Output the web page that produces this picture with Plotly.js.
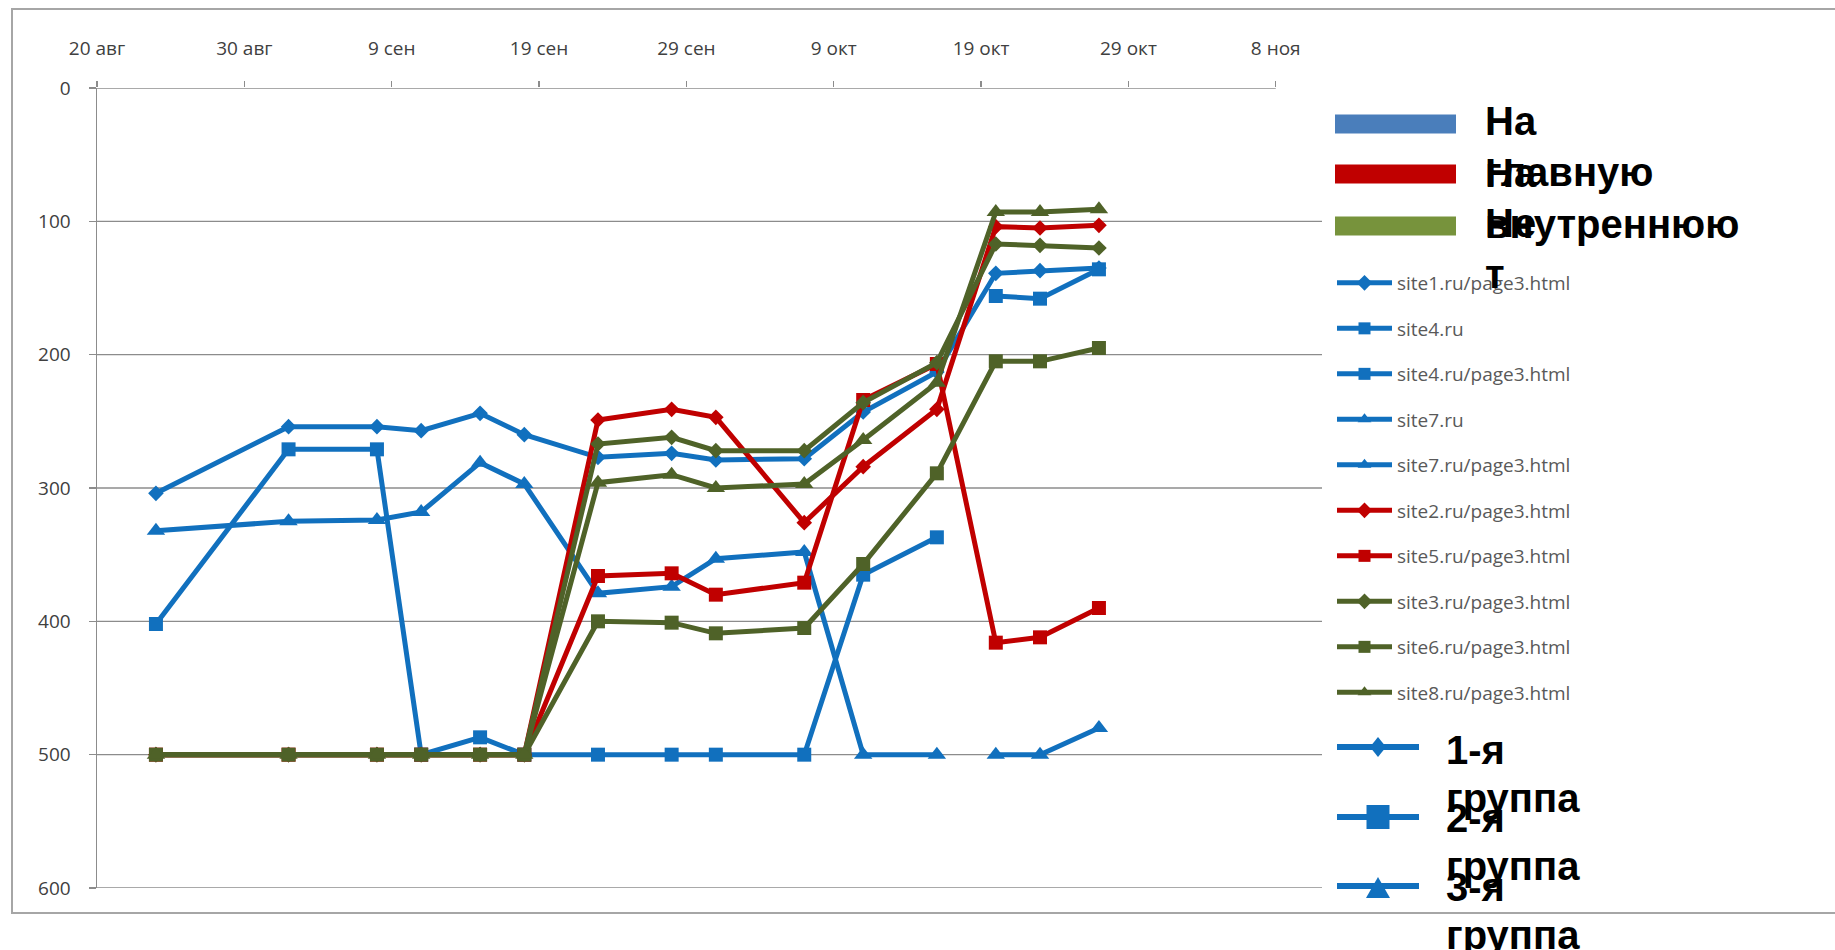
<!DOCTYPE html>
<html>
<head>
<meta charset="utf-8">
<script src="https://cdn.plot.ly/plotly-3.0.1.min.js"></script>
<style>html,body{margin:0;padding:0;background:#fff;}#chart{width:1835px;height:950px;}</style>
</head>
<body>
<div id="chart"></div>
<script>
// ---- data ----
const dates = ['2010-08-24','2010-09-02','2010-09-08','2010-09-11','2010-09-15','2010-09-18','2010-09-23','2010-09-28','2010-10-01','2010-10-07','2010-10-11','2010-10-16','2010-10-20','2010-10-23','2010-10-27'];
const site1_page3 = [304, 254, 254, 257, 244, 260, 277, 274, 279, 278, 243, 213, 139, 137, 135];
const site4      = [402, 271, 271, 500, 487, 500, 500, 500, 500, 500, 365, 337, null, null, null];
const site4_page3 = [null, null, null, null, null, null, null, null, null, null, null, null, 156, 158, 136];
const site7      = [332, 325, 324, 318, 281, 297, 379, 374, 353, 348, 500, 500, null, null, null];
const site7_page3 = [null, null, null, null, null, null, null, null, null, null, null, null, 500, 500, 480];
const site2_page3 = [500, 500, 500, 500, 500, 500, 249, 241, 247, 326, 284, 241, 104, 105, 103];
const site5_page3 = [500, 500, 500, 500, 500, 500, 366, 364, 380, 371, 234, 207, 416, 412, 390];
const site3_page3 = [500, 500, 500, 500, 500, 500, 267, 262, 272, 272, 236, 206, 117, 118, 120];
const site6_page3 = [500, 500, 500, 500, 500, 500, 400, 401, 409, 405, 357, 289, 205, 205, 195];
const site8_page3 = [500, 500, 500, 500, 500, 500, 296, 290, 300, 297, 264, 221, 93, 93, 91];

const seriesNames = ['site1.ru/page3.html','site4.ru','site4.ru/page3.html','site7.ru','site7.ru/page3.html','site2.ru/page3.html','site5.ru/page3.html','site3.ru/page3.html','site6.ru/page3.html','site8.ru/page3.html'];
const seriesValues = [site1_page3, site4, site4_page3, site7, site7_page3, site2_page3, site5_page3, site3_page3, site6_page3, site8_page3];

const tickDates = ['2010-08-20','2010-08-30','2010-09-09','2010-09-19','2010-09-29','2010-10-09','2010-10-19','2010-10-29','2010-11-08'];
const tickLabels = ['20 авг','30 авг','9 сен','19 сен','29 сен','9 окт','19 окт','29 окт','8 ноя'];
const yTicks = [0, 100, 200, 300, 400, 500, 600];

const headerLabels = ['На главную', 'На внутреннюю', 'Нет'];
const groupLabels = ['1-я группа', '2-я группа', '3-я группа'];

// ---- styles ----
const BLUE = '#1170BE', RED = '#C00000', GREEN = '#4F6228';
const styles = [
  {c: BLUE, s: 'diamond', z: 12},
  {c: BLUE, s: 'square', z: 14},
  {c: BLUE, s: 'square', z: 14},
  {c: BLUE, s: 'triangle-up', z: 16},
  {c: BLUE, s: 'triangle-up', z: 16},
  {c: RED, s: 'diamond', z: 12},
  {c: RED, s: 'square', z: 14},
  {c: GREEN, s: 'diamond', z: 12},
  {c: GREEN, s: 'square', z: 14},
  {c: GREEN, s: 'triangle-up', z: 16}
];

const traces = seriesNames.map((n, i) => ({
  type: 'scatter', mode: 'lines+markers', name: n, x: dates, y: seriesValues[i],
  legendgroup: 'g' + i, connectgaps: false,
  line: {color: styles[i].c, width: 5},
  marker: {symbol: styles[i].s, size: styles[i].z, color: styles[i].c}
}));

// ---- geometry helpers (pixel -> paper) ----
const W = 1835, H = 950, L = 97, T = 88, PW = 1225, PH = 800;
const X = p => (p - L) / PW;
const Y = p => (T + PH - p) / PH;

const shapes = [];
// chart frame
shapes.push({type: 'rect', xref: 'paper', yref: 'paper', x0: X(12), x1: X(1860), y0: Y(913), y1: Y(9), line: {color: '#A6A6A6', width: 2}, layer: 'below'});
// horizontal gridlines
yTicks.slice(1).forEach(v => shapes.push({type: 'line', xref: 'paper', yref: 'y', x0: 0, x1: 1, y0: v, y1: v, line: {color: '#8C8C8C', width: 1.3}, layer: 'below'}));
// top category axis line
shapes.push({type: 'line', xref: 'x', yref: 'y', x0: tickDates[0], x1: tickDates[tickDates.length - 1], y0: 0, y1: 0, line: {color: '#8C8C8C', width: 1.5}, layer: 'below'});

// header legend (colored bars)
const headerColors = ['#4A7EBB', '#C00000', '#77933C'];
const headerBarY = [124, 174, 226];
headerBarY.forEach((cy, i) => shapes.push({type: 'rect', xref: 'paper', yref: 'paper', x0: X(1335), x1: X(1456), y0: Y(cy + 9.5), y1: Y(cy - 9.5), line: {width: 0}, fillcolor: headerColors[i]}));

// group legend (line + marker)
const groupY = [747, 817, 886];
const gcx = 1378;
groupY.forEach((cy, i) => {
  shapes.push({type: 'line', xref: 'paper', yref: 'paper', x0: X(1337), x1: X(1419), y0: Y(cy), y1: Y(cy), line: {color: BLUE, width: 6}});
  if (i === 0) {
    shapes.push({type: 'path', xref: 'paper', yref: 'paper', fillcolor: BLUE, line: {width: 0},
      path: `M ${X(gcx)},${Y(cy - 10)} L ${X(gcx + 8)},${Y(cy)} L ${X(gcx)},${Y(cy + 10)} L ${X(gcx - 8)},${Y(cy)} Z`});
  } else if (i === 1) {
    shapes.push({type: 'rect', xref: 'paper', yref: 'paper', fillcolor: BLUE, line: {width: 0},
      x0: X(gcx - 11.5), x1: X(gcx + 11.5), y0: Y(cy + 12), y1: Y(cy - 12)});
  } else {
    shapes.push({type: 'path', xref: 'paper', yref: 'paper', fillcolor: BLUE, line: {width: 0},
      path: `M ${X(gcx)},${Y(cy - 9)} L ${X(gcx + 12)},${Y(cy + 12)} L ${X(gcx - 12)},${Y(cy + 12)} Z`});
  }
});

// overlapping wrapped legend texts (as in the original slide)
const annotations = [];
const bigFont = {family: 'Liberation Sans, Arial, sans-serif', size: 40, color: '#000000', weight: 'bold'};
function addLine(text, xLeft, baseline) {
  annotations.push({text: text, xref: 'paper', yref: 'paper', x: X(xLeft), y: Y(baseline + 9.5),
    xanchor: 'left', yanchor: 'bottom', showarrow: false, font: bigFont, borderpad: 0});
}
const headerBase = [134.6, 186, 236];
headerLabels.forEach((lab, i) => {
  let parts = lab === 'Нет' ? ['Не', 'т'] : lab.split(' ');
  addLine(parts[0], 1484, headerBase[i]);
  addLine(parts[1], 1484, headerBase[i] + 51);
});
const groupBase = [763, 831, 900];
groupLabels.forEach((lab, i) => {
  const parts = lab.split(' ');
  addLine(parts[0], 1445, groupBase[i]);
  addLine(parts[1], 1445, groupBase[i] + 48);
});

const tickFont = {family: 'Open Sans, sans-serif', size: 19, color: '#404040'};

const layout = {
  width: W, height: H, autosize: false,
  paper_bgcolor: '#ffffff', plot_bgcolor: 'rgba(0,0,0,0)',
  margin: {l: L, r: W - L - PW, t: T, b: H - T - PH, autoexpand: false},
  showlegend: true,
  legend: {
    x: X(1332), y: Y(264), xanchor: 'left', yanchor: 'top',
    font: {family: 'Open Sans, sans-serif', size: 19, color: '#595959'},
    bgcolor: 'rgba(0,0,0,0)', itemwidth: 55, tracegroupgap: 17.8, traceorder: 'grouped', itemsizing: 'constant'
  },
  xaxis: {
    type: 'date', side: 'top', range: ['2010-08-20', '2010-11-11 03:20'],
    tickmode: 'array', tickvals: tickDates, ticktext: tickLabels,
    ticks: 'outside', ticklen: 6, tickcolor: '#8C8C8C', tickwidth: 1.3,
    showgrid: false, zeroline: false, showline: false,
    tickfont: tickFont, ticklabelstandoff: 18, fixedrange: true
  },
  yaxis: {
    range: [600, 0], tickmode: 'array', tickvals: yTicks,
    ticks: 'outside', ticklen: 7, tickcolor: '#8C8C8C', tickwidth: 1.3,
    showgrid: false, zeroline: false, showline: true, linecolor: '#8C8C8C', linewidth: 1.5,
    tickfont: tickFont, ticklabelstandoff: 14, fixedrange: true
  },
  shapes: shapes,
  annotations: annotations
};

Plotly.newPlot('chart', traces, layout, {displayModeBar: false, staticPlot: true});
</script>
</body>
</html>
